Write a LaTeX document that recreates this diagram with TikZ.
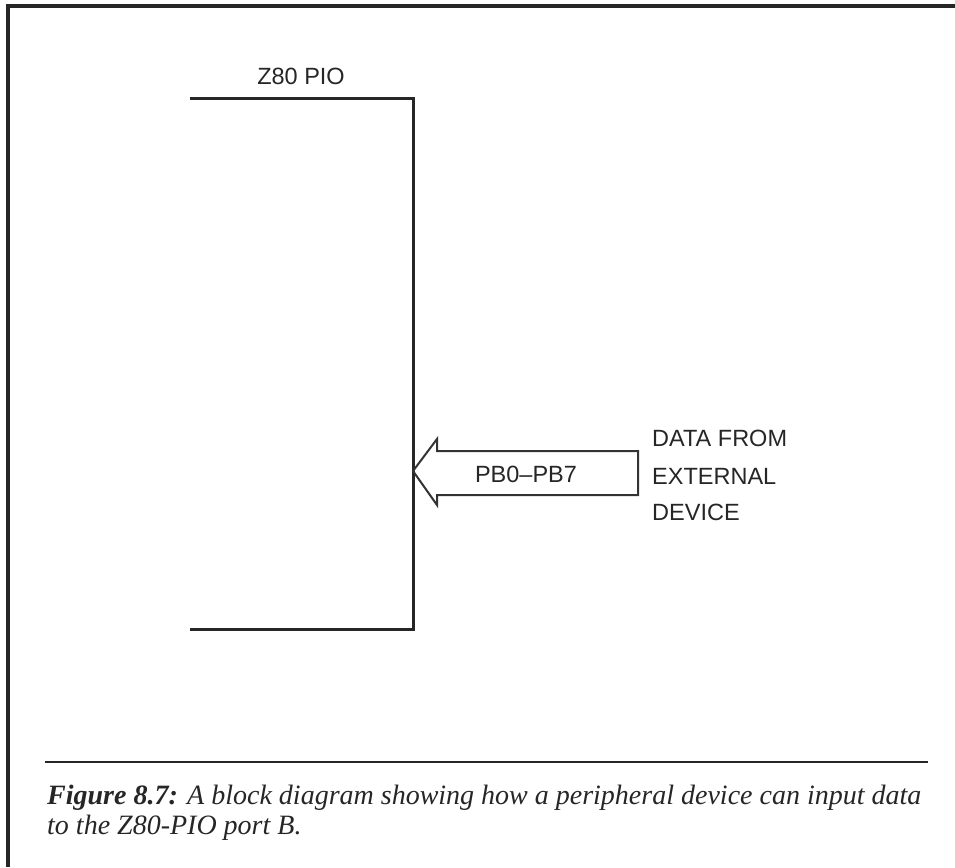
\documentclass[tikz,border=0pt]{standalone}
\usepackage{fontspec}
\setmainfont{Liberation Serif}
\newfontfamily\labelfont{Liberation Sans}
\newfontfamily\capfont{Liberation Serif}
\begin{document}
\begin{tikzpicture}[x=1pt,y=-1pt,
  frame/.style={line width=3.2pt,black!85},
  bracket/.style={line width=3pt,black!85,line join=miter},
  arrowshape/.style={line width=2pt,black!80,line join=miter},
  lbl/.style={font=\labelfont\fontsize{23.5}{28}\selectfont,inner sep=0pt,text=black!85},
  captext/.style={font=\capfont\itshape\fontsize{28}{30}\selectfont,inner sep=0pt,text=black!85,align=left}]
\useasboundingbox (0,0) rectangle (955,867);
% outer frame (top and left edges)
\draw[frame] (8,867) -- (8,6) -- (955,6);
% Z80 PIO bracket
\draw[bracket] (190,98) -- (413,98) -- (413,629) -- (190,629);
\node[lbl,anchor=base] (pio) at (301,84) {Z80 PIO};
% block arrow into port B
\draw[arrowshape] (413,471) -- (437,439) -- (437,451) -- (638,451) -- (638,495) -- (437,495) -- (437,505) -- cycle;
\node[lbl] (pb) at (526,474) {PB0–PB7};
\node[lbl,anchor=base west] (d1) at (652,446) {DATA FROM};
\node[lbl,anchor=base west] (d2) at (652,484) {EXTERNAL};
\node[lbl,anchor=base west] (d3) at (652,520) {DEVICE};
% caption rule and caption
\draw[line width=2.6pt,black!85] (45,762) -- (928,762);
\node[captext,anchor=base west] (c1) at (47,804) {\textbf{Figure 8.7:} A block diagram showing how a peripheral device can input data};
\node[captext,anchor=base west] (c2) at (47,834) {to the Z80-PIO port B.};
\end{tikzpicture}
\end{document}
